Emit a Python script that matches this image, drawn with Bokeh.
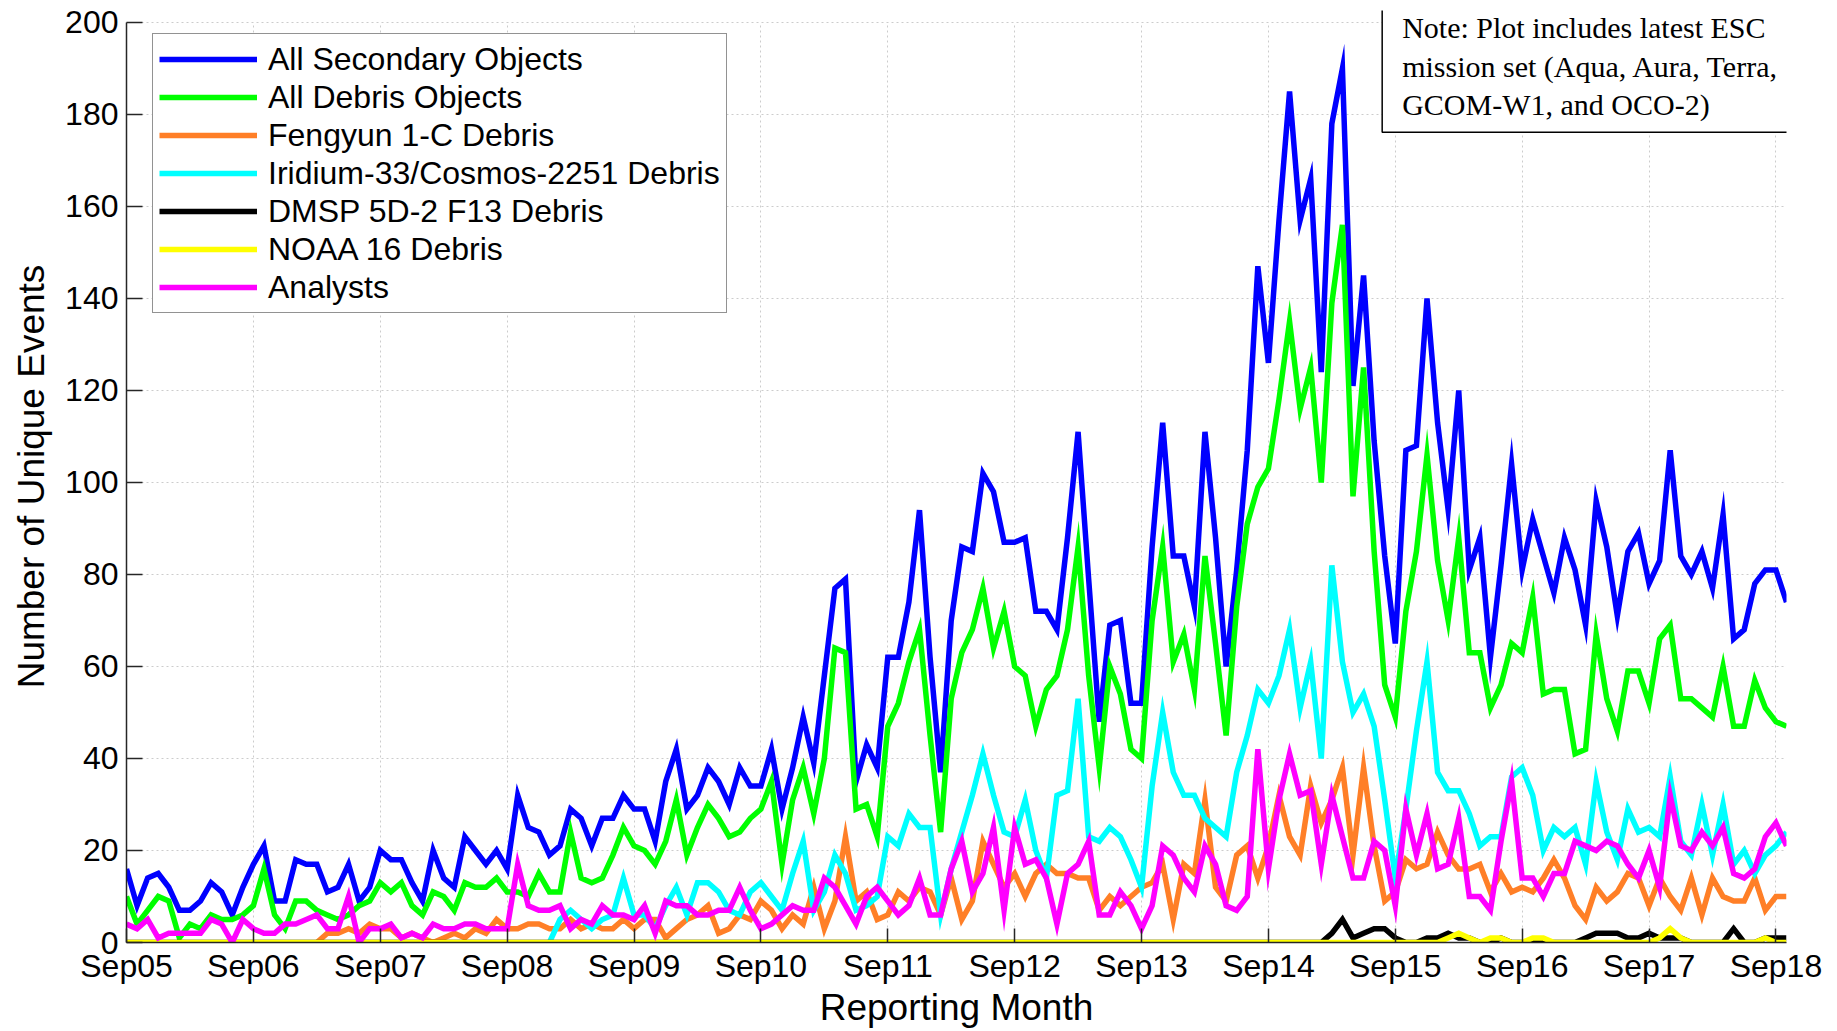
import math
from bokeh.plotting import figure
from bokeh.models import Range1d, FixedTicker, Legend, LegendItem, Label, BoxAnnotation
from bokeh.embed import file_html
from bokeh.resources import INLINE

NAN = float("nan")

tick_labels = ["Sep05", "Sep06", "Sep07", "Sep08", "Sep09", "Sep10", "Sep11",
               "Sep12", "Sep13", "Sep14", "Sep15", "Sep16", "Sep17", "Sep18"]

all_secondary = [
    16, 8, 14, 15, 12, 7, 7, 9, 13, 11,
    6, 12, 17, 21, 9, 9, 18, 17, 17, 11,
    12, 17, 9, 12, 20, 18, 18, 13, 9, 20,
    14, 12, 23, 20, 17, 20, 16, 32, 25, 24,
    19, 21, 29, 27, 21, 27, 27, 32, 29, 29,
    22, 35, 42, 29, 32, 38, 35, 30, 38, 34,
    34, 42, 29, 38, 49, 39, 58, 77, 79, 35,
    43, 38, 62, 62, 74, 94, 62, 37, 70, 86,
    85, 102, 98, 87, 87, 88, 72, 72, 68, 88,
    111, 79, 48, 69, 70, 52, 52, 86, 113, 84,
    84, 73, 111, 88, 60, 81, 107, 147, 126, 157,
    185, 157, 166, 124, 178, 190, 121, 145, 109, 84,
    65, 107, 108, 140, 113, 94, 120, 81, 88, 62,
    82, 104, 81, 92, 84, 76, 88, 81, 69, 96,
    86, 71, 85, 89, 78, 83, 107, 84, 80, 85,
    77, 93, 66, 68, 78, 81, 81, 74]

all_debris = [
    10, 4, 7, 10, 9, 1, 4, 3, 6, 5,
    5, 6, 8, 16, 6, 3, 9, 9, 7, 6,
    5, 6, 8, 9, 13, 11, 13, 8, 6, 11,
    10, 7, 13, 12, 12, 14, 11, 11, 10, 15,
    11, 11, 24, 14, 13, 14, 19, 25, 21, 20,
    17, 22, 31, 19, 25, 30, 27, 23, 24, 27,
    29, 35, 17, 31, 38, 28, 40, 64, 63, 29,
    30, 23, 47, 52, 61, 68, 45, 24, 53, 63,
    68, 77, 64, 72, 60, 58, 47, 55, 58, 68,
    86, 58, 38, 60, 54, 42, 40, 70, 86, 61,
    67, 55, 84, 65, 45, 73, 91, 99, 103, 118,
    135, 116, 125, 100, 139, 156, 97, 125, 85, 56,
    49, 72, 85, 106, 83, 70, 88, 63, 63, 51,
    56, 65, 63, 75, 54, 55, 55, 41, 42, 67,
    53, 46, 59, 59, 52, 66, 69, 53, 53, 51,
    49, 60, 47, 47, 57, 51, 48, 47]

fengyun = [NAN] * 18 + [
    0, 2,
    2, 3, 2, 4, 3, 3, 1, 2, 1, 0,
    1, 2, 1, 3, 2, 5, 3, 3, 4, 4,
    3, 3, 5, 3, 4, 3, 3, 5, 3, 5,
    5, 1, 3, 5, 6, 8, 2, 3, 6, 5,
    9, 7, 3, 6, 4, 12, 3, 9, 23, 9,
    11, 5, 6, 11, 9, 12, 11, 6, 14, 5,
    9, 22, 17, 12, 15, 10, 15, 17, 15, 15,
    14, 14, 7, 10, 8, 10, 12, 13, 17, 5,
    17, 15, 31, 12, 9, 19, 21, 14, 21, 32,
    23, 19, 34, 26, 31, 38, 19, 38, 21, 9,
    11, 18, 16, 17, 24, 19, 16, 16, 17, 11,
    15, 11, 12, 11, 14, 18, 14, 8, 5, 12,
    9, 11, 15, 14, 8, 14, 10, 7, 14, 6,
    14, 10, 9, 9, 14, 7, 10, 10]

iridium_cosmos = [NAN] * 40 + [
    0, 5, 7, 5, 3, 5, 6, 14, 6, 6,
    3, 8, 12, 6, 13, 13, 11, 7, 6, 11,
    13, 10, 7, 15, 22, 7, 11, 19, 15, 7,
    8, 10, 23, 21, 28, 25, 25, 6, 16, 24,
    32, 41, 32, 24, 23, 31, 20, 14, 32, 33,
    53, 23, 22, 25, 23, 18, 12, 34, 50, 37,
    32, 32, 27, 25, 23, 37, 45, 55, 52, 58,
    68, 51, 61, 40, 82, 61, 50, 54, 47, 31,
    14, 29, 46, 61, 37, 33, 33, 28, 21, 23,
    23, 36, 38, 32, 20, 25, 23, 25, 17, 35,
    24, 18, 29, 24, 25, 23, 36, 22, 19, 30,
    19, 30, 17, 20, 15, 19, 21, 24]

dmsp = [0] * 113 + [
    0, 2, 5, 1, 2, 3, 3,
    1, 0, 0, 1, 1, 2, 1, 1, 0, 0,
    1, 0, 0, 0, 0, 0, 0, 0, 1, 2,
    2, 2, 1, 1, 2, 1, 1, 1, 0, 0,
    0, 0, 3, 0, 0, 1, 1, 1]

noaa16 = [0] * 125 + [
    1, 2, 1, 0, 1,
    1, 0, 0, 1, 1, 0, 0, 0, 0, 0,
    0, 0, 0, 0, 0, 1, 3, 1, 0, 0,
    0, 0, 0, 0, 0, 1, 0, 0]

analysts = [
    4, 3, 5, 1, 2, 2, 2, 2, 5, 4,
    0, 5, 3, 2, 2, 4, 4, 5, 6, 3,
    3, 10, 0, 3, 3, 4, 1, 2, 1, 4,
    3, 3, 4, 4, 3, 3, 3, 17, 8, 7,
    7, 8, 3, 5, 4, 8, 6, 6, 5, 8,
    2, 9, 8, 8, 6, 6, 7, 7, 12, 7,
    3, 4, 6, 8, 7, 7, 14, 12, 8, 4,
    10, 12, 9, 6, 8, 14, 6, 6, 16, 22,
    11, 15, 25, 7, 25, 17, 18, 14, 4, 15,
    17, 22, 6, 6, 11, 8, 3, 8, 21, 19,
    14, 11, 21, 17, 8, 7, 10, 42, 16, 31,
    41, 32, 33, 17, 32, 23, 14, 14, 22, 20,
    8, 29, 19, 28, 16, 17, 27, 10, 10, 7,
    22, 35, 14, 14, 10, 15, 15, 22, 21, 20,
    22, 21, 17, 14, 20, 12, 32, 21, 20, 24,
    21, 25, 15, 14, 16, 23, 26, 21]

series_names = ["All Secondary Objects", "All Debris Objects", "Fengyun 1-C Debris",
                "Iridium-33/Cosmos-2251 Debris", "DMSP 5D-2 F13 Debris",
                "NOAA 16 Debris", "Analysts"]
series_values = [all_secondary, all_debris, fengyun, iridium_cosmos, dmsp, noaa16, analysts]
series_colors = ["#0000ff", "#00ff00", "#ff7f27", "#00ffff", "#000000", "#ffff00", "#ff00ff"]

note_text = "Note: Plot includes latest ESC\nmission set (Aqua, Aura, Terra,\nGCOM-W1, and OCO-2)"

n = len(all_secondary)
months = list(range(n))
year_ticks = [12 * k for k in range(len(tick_labels))]
y_max = 200

p = figure(width=1837, height=1031, output_backend="svg", toolbar_location=None,
           x_range=Range1d(0, n - 1), y_range=Range1d(0, 202.6),
           min_border_left=126, min_border_right=51, min_border_top=10,
           min_border_bottom=89)
p.outline_line_color = None
p.background_fill_color = "white"

FONT = "Liberation Sans"
for ax in (p.xaxis[0], p.yaxis[0]):
    ax.major_label_text_font = FONT
    ax.major_label_text_font_size = "32px"
    ax.major_label_text_color = "#000000"
    ax.axis_label_text_font = FONT
    ax.axis_label_text_font_size = "37px"
    ax.axis_label_text_font_style = "normal"
    ax.axis_label_text_color = "#000000"
    ax.axis_line_color = "#262626"
    ax.axis_line_width = 1.5
    ax.major_tick_line_color = "#262626"
    ax.major_tick_line_width = 1.5
    ax.major_tick_out = 0
    ax.minor_tick_line_color = None

p.xaxis.ticker = FixedTicker(ticks=year_ticks)
p.xaxis.major_label_overrides = {t: lbl for t, lbl in zip(year_ticks, tick_labels)}
p.xaxis.major_tick_in = 14
p.xaxis.major_label_standoff = 5
p.xaxis.axis_label = "Reporting Month"
p.xaxis.axis_label_standoff = 0

p.yaxis.ticker = FixedTicker(ticks=list(range(0, y_max + 1, 20)))
p.yaxis.bounds = (0, y_max)
p.yaxis.major_tick_in = 16
p.yaxis.major_label_standoff = 8
p.yaxis.axis_label = "Number of Unique Events"
p.yaxis.axis_label_standoff = 10

p.grid.grid_line_color = "#cccccc"
p.grid.grid_line_dash = "2 3"
p.grid.grid_line_width = 1

has_cross = "cross_bounds" in p.xgrid[0].properties()
if has_cross:
    p.xgrid[0].cross_bounds = (0, y_max)

items = []
for name, vals, col in zip(series_names, series_values, series_colors):
    r = p.line(months, vals, line_color=col, line_width=5.5, line_join="miter")
    items.append(LegendItem(label=name, renderers=[r]))

if not has_cross:
    # blank the strip above the top of the axes
    p.add_layout(BoxAnnotation(bottom=y_max, fill_color="white", fill_alpha=1.0,
                               line_color=None, level="underlay"))

legend = Legend(items=items, location=(26, 629), padding=6, spacing=0,
                label_height=38, glyph_height=38, glyph_width=98, label_standoff=11,
                label_text_font=FONT, label_text_font_size="32px",
                label_text_color="#000000",
                border_line_color="#262626", border_line_width=1.5,
                background_fill_color="white", background_fill_alpha=1.0)
p.add_layout(legend)

note = Label(x=118.76, y=205.5, x_units="data", y_units="data", text=note_text,
             text_font="Liberation Serif", text_font_size="30px", text_color="#000000",
             text_line_height=1.169,
             text_align="left", text_baseline="top",
             border_line_color="#000000", border_line_width=1.5,
             background_fill_color="white", background_fill_alpha=1.0,
             padding=dict(left=20, right=90, top=14, bottom=11))
p.add_layout(note)

open("out.html", "w").write(file_html(p, INLINE))
